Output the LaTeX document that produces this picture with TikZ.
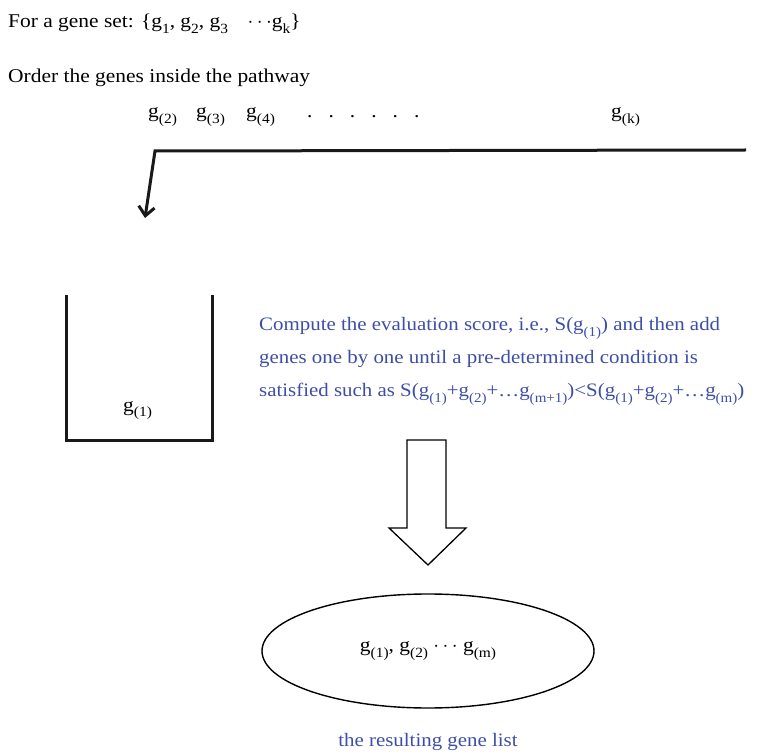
\documentclass[tikz,border=0pt]{standalone}
\usepackage{fontspec}
\setmainfont{Liberation Serif}[FakeStretch=1.1]
\usetikzlibrary{arrows.meta,shapes.geometric}
\definecolor{txtblue}{RGB}{62,78,168}
\tikzset{
  lbl/.style={anchor=base west,inner sep=0pt,font=\fontsize{19.5}{22}\selectfont},
  bluelbl/.style={lbl,text=txtblue,font=\fontsize{19}{22}\selectfont},
  thickline/.style={line width=3pt,draw=black!90},
  blockarrow/.style={draw=black,line width=1.3pt,fill=white,line join=miter},
  result/.style={ellipse,draw=black,line width=1.4pt,minimum width=332pt,minimum height=114pt,inner sep=0pt,font=\fontsize{19.5}{22}\selectfont}
}
\newcommand{\gs}[1]{g\raisebox{-0.27em}{\scalebox{0.72}{#1}}}
\begin{document}
\begin{tikzpicture}[x=1pt,y=-1pt]
\useasboundingbox (0,0) rectangle (764,754);
\node[lbl] (set) at (8,28) {For a gene set: \{\gs{1}, \gs{2}, \gs{3}\quad $\cdots$\gs{k}\}};
\node[lbl] (order) at (8,83) {Order the genes inside the pathway};
\node[lbl] (g2) at (148,118) {\gs{(2)}};
\node[lbl] (g3) at (196,118) {\gs{(3)}};
\node[lbl] (g4) at (246,118) {\gs{(4)}};
\node[lbl] (dots) at (307,118) {.\hspace{16pt}.\hspace{16pt}.\hspace{16pt}.\hspace{16pt}.\hspace{16pt}.};
\node[lbl] (gk) at (611,118) {\gs{(k)}};
\coordinate (lineR) at (746,150);
\coordinate (lineL) at (155,151);
\coordinate (tip) at (145,218);
\draw[thickline,line join=miter,-{Straight Barb[length=9pt,width=16pt,line width=3pt]}] (lineR) -- (lineL) -- (tip);
\draw[thickline,line cap=rect] (66,297) coordinate (boxTL) -- (66,440) -- (212,440) -- (212,297) coordinate (boxTR);
\node[lbl] (g1) at (123,411) {\gs{(1)}};
\node[bluelbl] (c1) at (259,331) {Compute the evaluation score, i.e., S(\gs{(1)}) and then add};
\node[bluelbl] (c2) at (259,364) {genes one by one until a pre-determined condition is};
\node[bluelbl] (c3) at (259,397) {satisfied such as S(\gs{(1)}+\gs{(2)}+\dots\gs{(m+1)})<S(\gs{(1)}+\gs{(2)}+\dots\gs{(m)})};
\draw[blockarrow] (407,440) -- (446,440) -- (446,528) -- (466,528) -- (428,565) -- (389,528) -- (407,528) -- cycle;
\node[result] (res) at (428,651) {\gs{(1)}, \gs{(2)} $\cdots$ \gs{(m)}};
\node[bluelbl,anchor=base] (cap) at (428,746) {the resulting gene list};
\end{tikzpicture}
\end{document}
